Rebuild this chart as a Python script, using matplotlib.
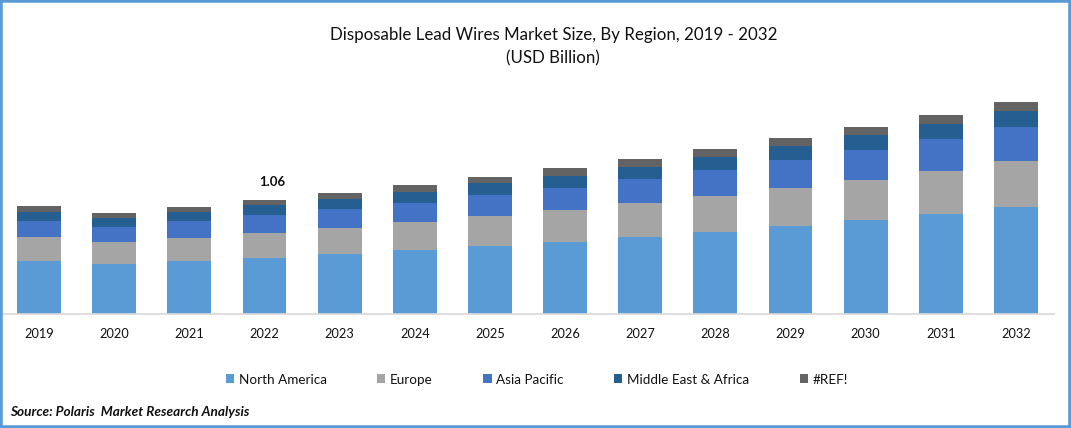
from matplotlib import pyplot as plt
from matplotlib.patches import Rectangle
import numpy as np

years = ['2019', '2020', '2021', '2022', '2023', '2024', '2025',
         '2026', '2027', '2028', '2029', '2030', '2031', '2032']
north_america = [.493, .465, .493, .521, .558, .595, .632, .670, .716, .763, .818, .874, .930, .995]
europe = [.223, .205, .214, .233, .242, .260, .279, .298, .316, .335, .353, .372, .400, .428]
asia_pacific = [.149, .140, .158, .167, .177, .177, .195, .205, .223, .242, .260, .279, .298, .316]
middle_east = [.084, .084, .084, .093, .093, .102, .112, .112, .112, .121, .130, .140, .140, .149]
ref_error = [.056, .047, .047, .047, .056, .065, .056, .074, .074, .074, .074, .074, .084, .084]

series = [north_america, europe, asia_pacific, middle_east, ref_error]
names = ['North America', 'Europe', 'Asia Pacific', 'Middle East & Africa', '#REF!']
colors = ['#5B9BD5', '#A5A5A5', '#4472C4', '#255E91', '#636363']

W, H = 1071, 428
plt.rcParams['font.family'] = ['Lato', 'DejaVu Sans']

fig = plt.figure(figsize=(W / 100, H / 100), dpi=100)
# axes placed in pixels: x 1.5-1053.5, y 90-314
ax = fig.add_axes([1.5 / W, 1 - 314 / H, 1052 / W, 224 / H])

x = np.arange(len(years))
bottom = np.zeros(len(years))
for vals, name, c in zip(series, names, colors):
    ax.bar(x, vals, 0.585, bottom=bottom, color=c, label=name)
    bottom += np.array(vals)

ax.set_xlim(-0.5, len(years) - 0.5)
ax.set_ylim(0, 2.083)
ax.set_xticks(x, years)
ax.set_yticks([])
ax.tick_params(axis='x', length=0, pad=10, labelsize=9.2, labelcolor='#111111')
for s in ['top', 'left', 'right']:
    ax.spines[s].set_visible(False)
ax.spines['bottom'].set_color('#D9D9D9')
ax.spines['bottom'].set_linewidth(1.2)

ax.text(3.1, bottom[3] + 0.115, '1.06', ha='center', va='bottom', fontsize=9.5, fontweight='bold', color='#111111')

fig.text(554 / W, 1 - 35 / H, 'Disposable Lead Wires Market Size, By Region, 2019 - 2032',
         ha='center', va='center', fontsize=12.2, color='#111111')
fig.text(553 / W, 1 - 58 / H, '(USD Billion)', ha='center', va='center', fontsize=12.2, color='#111111')

fig.legend(loc='center', bbox_to_anchor=(537 / W, 1 - 379.5 / H), ncol=5, frameon=False,
           fontsize=9.7, handlelength=0.6, handleheight=0.6, handletextpad=0.35, columnspacing=3.75,
           labelcolor='#111111')

fig.text(10 / W, 1 - 412 / H, 'Source: Polaris  Market Research Analysis', ha='left', va='center',
         fontsize=9.8, fontweight='bold', fontstyle='italic', color='#111111')

# blue frame around the picture
fig.add_artist(Rectangle((0, 0), 1, 1, transform=fig.transFigure, fill=False,
                         edgecolor='#5B9BD5', linewidth=4))

fig.savefig('out.png', dpi=100)
